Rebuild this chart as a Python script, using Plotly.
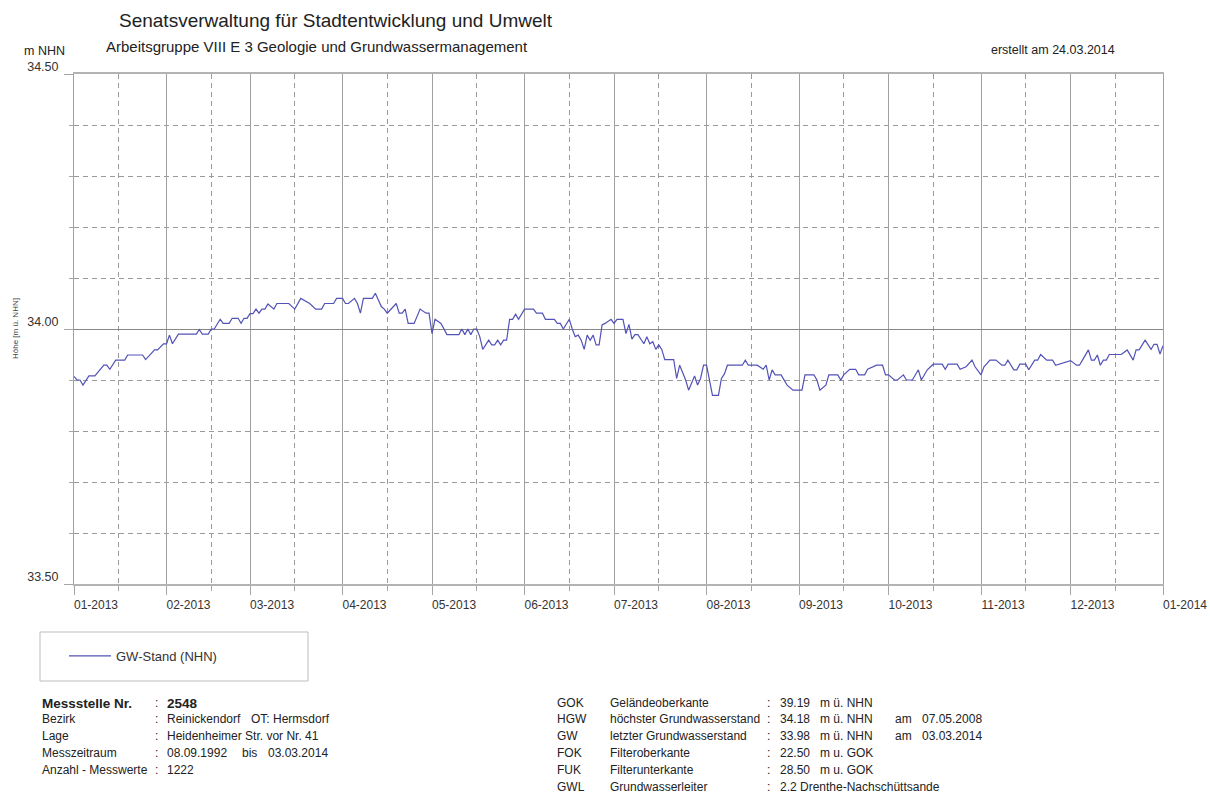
import plotly.graph_objects as go

# ---------------- data ----------------
dates = [
    "2013-01-01", "2013-01-02", "2013-01-03", "2013-01-04", "2013-01-06", "2013-01-08", "2013-01-11",
    "2013-01-12", "2013-01-13", "2013-01-15", "2013-01-18", "2013-01-19", "2013-01-24", "2013-01-25",
    "2013-01-28", "2013-01-29", "2013-01-31",
    "2013-02-01", "2013-02-02", "2013-02-03", "2013-02-05", "2013-02-11", "2013-02-12", "2013-02-13",
    "2013-02-15", "2013-02-16", "2013-02-17", "2013-02-19", "2013-02-20", "2013-02-22", "2013-02-23",
    "2013-02-25", "2013-02-26", "2013-02-27", "2013-02-28",
    "2013-03-01", "2013-03-02", "2013-03-03", "2013-03-04", "2013-03-05", "2013-03-06", "2013-03-07",
    "2013-03-09", "2013-03-10", "2013-03-14", "2013-03-16", "2013-03-18", "2013-03-20", "2013-03-21",
    "2013-03-23", "2013-03-25", "2013-03-26", "2013-03-29", "2013-03-30", "2013-03-31",
    "2013-04-01", "2013-04-02", "2013-04-03", "2013-04-05", "2013-04-06", "2013-04-07", "2013-04-08",
    "2013-04-11", "2013-04-12", "2013-04-14", "2013-04-15", "2013-04-16", "2013-04-19", "2013-04-20",
    "2013-04-21", "2013-04-22", "2013-04-23", "2013-04-25", "2013-04-27", "2013-04-29", "2013-04-30",
    "2013-05-01", "2013-05-02", "2013-05-04", "2013-05-06", "2013-05-10", "2013-05-11", "2013-05-12",
    "2013-05-13", "2013-05-14", "2013-05-15", "2013-05-16", "2013-05-17", "2013-05-18", "2013-05-20",
    "2013-05-21", "2013-05-22", "2013-05-23", "2013-05-24", "2013-05-25", "2013-05-26", "2013-05-27",
    "2013-05-28", "2013-05-29", "2013-05-30",
    "2013-06-01", "2013-06-04", "2013-06-05", "2013-06-07", "2013-06-08", "2013-06-11", "2013-06-12",
    "2013-06-13", "2013-06-14", "2013-06-16", "2013-06-17", "2013-06-18", "2013-06-19", "2013-06-20",
    "2013-06-21", "2013-06-22", "2013-06-23", "2013-06-24", "2013-06-25", "2013-06-26", "2013-06-27",
    "2013-06-28", "2013-06-30",
    "2013-07-01", "2013-07-02", "2013-07-04", "2013-07-05", "2013-07-06", "2013-07-07", "2013-07-08",
    "2013-07-09", "2013-07-11", "2013-07-12", "2013-07-13", "2013-07-14", "2013-07-15", "2013-07-16",
    "2013-07-17", "2013-07-18", "2013-07-21", "2013-07-22", "2013-07-23", "2013-07-25", "2013-07-26",
    "2013-07-28", "2013-07-29", "2013-07-30", "2013-07-31",
    "2013-08-01", "2013-08-02", "2013-08-03", "2013-08-05", "2013-08-06", "2013-08-07", "2013-08-08",
    "2013-08-13", "2013-08-14", "2013-08-15", "2013-08-18", "2013-08-20", "2013-08-21", "2013-08-22",
    "2013-08-23", "2013-08-24", "2013-08-26", "2013-08-28", "2013-08-30",
    "2013-09-02", "2013-09-03", "2013-09-06", "2013-09-07", "2013-09-08", "2013-09-10", "2013-09-11",
    "2013-09-14", "2013-09-15", "2013-09-16", "2013-09-18", "2013-09-20", "2013-09-21", "2013-09-23",
    "2013-09-24", "2013-09-27", "2013-09-28", "2013-09-29", "2013-09-30",
    "2013-10-01", "2013-10-03", "2013-10-04", "2013-10-06", "2013-10-07", "2013-10-09", "2013-10-11",
    "2013-10-12", "2013-10-14", "2013-10-16", "2013-10-19", "2013-10-20", "2013-10-21", "2013-10-24",
    "2013-10-25", "2013-10-27", "2013-10-29", "2013-10-30",
    "2013-11-01", "2013-11-02", "2013-11-04", "2013-11-06", "2013-11-08", "2013-11-09", "2013-11-10",
    "2013-11-12", "2013-11-13", "2013-11-14", "2013-11-16", "2013-11-17", "2013-11-19", "2013-11-20",
    "2013-11-21", "2013-11-23", "2013-11-25", "2013-11-26",
    "2013-12-01", "2013-12-03", "2013-12-04", "2013-12-05", "2013-12-07", "2013-12-08", "2013-12-09",
    "2013-12-10", "2013-12-11", "2013-12-12", "2013-12-13", "2013-12-14", "2013-12-18", "2013-12-20",
    "2013-12-22", "2013-12-23", "2013-12-24", "2013-12-26", "2013-12-28", "2013-12-29", "2013-12-30",
    "2013-12-31", "2014-01-01",
]

levels = [
    33.907, 33.900, 33.900, 33.890, 33.908, 33.908, 33.929,
    33.929, 33.921, 33.939, 33.939, 33.949, 33.949, 33.940,
    33.959, 33.959, 33.971,
    33.971, 33.988, 33.971, 33.990, 33.990, 33.999, 33.990,
    33.990, 34.000, 34.000, 34.019, 34.011, 34.011, 34.021,
    34.021, 34.011, 34.021, 34.021,
    34.030, 34.030, 34.039, 34.031, 34.039, 34.039, 34.049,
    34.039, 34.050, 34.050, 34.039, 34.060, 34.054, 34.050,
    34.039, 34.039, 34.050, 34.050, 34.060, 34.060,
    34.060, 34.050, 34.050, 34.060, 34.050, 34.031, 34.060,
    34.060, 34.070, 34.044, 34.039, 34.031, 34.050, 34.031,
    34.031, 34.039, 34.011, 34.011, 34.039, 34.031, 34.031,
    33.991, 34.019, 34.011, 33.989, 33.989, 34.000, 33.989,
    34.000, 33.989, 34.000, 34.000, 33.985, 33.960, 33.978,
    33.969, 33.969, 33.978, 33.969, 33.978, 33.978, 34.019,
    34.019, 34.029, 34.019,
    34.039, 34.039, 34.031, 34.031, 34.019, 34.019, 34.011,
    34.011, 34.000, 34.019, 34.000, 33.985, 33.988, 33.978,
    33.960, 33.988, 33.978, 33.988, 33.969, 33.969, 34.008,
    34.011, 34.019,
    34.011, 34.019, 34.019, 33.991, 34.009, 33.980, 33.989,
    33.989, 33.971, 33.985, 33.971, 33.975, 33.960, 33.969,
    33.960, 33.940, 33.940, 33.903, 33.929, 33.900, 33.880,
    33.908, 33.890, 33.903, 33.929,
    33.929, 33.900, 33.870, 33.870, 33.903, 33.912, 33.929,
    33.929, 33.939, 33.929, 33.929, 33.921, 33.929, 33.900,
    33.920, 33.910, 33.910, 33.890, 33.880,
    33.880, 33.910, 33.910, 33.900, 33.880, 33.890, 33.910,
    33.910, 33.900, 33.910, 33.921, 33.921, 33.910, 33.910,
    33.921, 33.929, 33.929, 33.929, 33.910,
    33.910, 33.900, 33.900, 33.910, 33.900, 33.900, 33.920,
    33.900, 33.920, 33.931, 33.931, 33.921, 33.931, 33.931,
    33.921, 33.926, 33.939, 33.926,
    33.910, 33.926, 33.939, 33.939, 33.929, 33.929, 33.939,
    33.920, 33.920, 33.931, 33.931, 33.920, 33.939, 33.939,
    33.950, 33.939, 33.939, 33.929,
    33.938, 33.929, 33.929, 33.939, 33.959, 33.939, 33.939,
    33.949, 33.929, 33.939, 33.939, 33.950, 33.950, 33.959,
    33.939, 33.959, 33.959, 33.978, 33.960, 33.970, 33.970,
    33.951, 33.967,
]

series_name = "GW-Stand (NHN)"
y_tick_values = [33.5, 34.0, 34.5]
y_tick_labels = ["33.50", "34.00", "34.50"]

# ---------------- figure ----------------
FONT = "Liberation Sans, Arial, sans-serif"
W, H = 1210, 803
L, R, T, B = 74, 47, 74, 219
PW, PH = W - L - R, H - T - B


def px(x):
    return (x - L) / PW


def py(y):
    return (H - B - y) / PH


fig = go.Figure()
fig.add_trace(go.Scatter(
    x=dates, y=levels, mode="lines", name=series_name,
    line=dict(color="#5252b8", width=1.2),
))

GRID = "#a6a6a6"
DASH = "5px,4px"

fig.update_layout(
    width=W, height=H,
    margin=dict(l=L, r=R, t=T, b=B),
    paper_bgcolor="white", plot_bgcolor="white",
    font=dict(family=FONT, color="#333"),
    showlegend=True,
    legend=dict(
        x=px(64), y=py(656), xanchor="left", yanchor="middle",
        bgcolor="rgba(0,0,0,0)", borderwidth=0, itemwidth=42,
        font=dict(family=FONT, size=13, color="#333"),
    ),
    title=dict(
        text="Senatsverwaltung für Stadtentwicklung und Umwelt",
        x=px(119), xref="paper", xanchor="left",
        y=1 - 20 / H, yref="container", yanchor="middle",
        font=dict(family=FONT, size=19, color="#222"),
    ),
)

fig.update_xaxes(
    type="date",
    range=["2013-01-01", "2014-01-01"],
    tickmode="linear", tick0="2013-01-01", dtick="M1",
    tickformat="%m-%Y",
    ticks="outside", ticklen=9, tickcolor=GRID, tickwidth=1,
    ticklabelshift=22, ticklabelstandoff=0,
    tickfont=dict(family=FONT, size=12, color="#333"),
    showgrid=True, gridcolor="#a0a0a0", gridwidth=1,
    showline=True, linecolor="#b3b3b3", linewidth=2, mirror=True,
    zeroline=False, automargin=False,
    minor=dict(
        tick0="2013-01-16", dtick="M1",
        ticks="outside", ticklen=5, tickcolor=GRID,
        showgrid=True, gridcolor="#9a9a9a", griddash=DASH, gridwidth=1,
    ),
)

fig.update_yaxes(
    range=[33.5, 34.5],
    tickmode="array", tickvals=y_tick_values, ticktext=y_tick_labels,
    ticks="outside", ticklen=9, tickcolor=GRID,
    ticklabelshift=-7, ticklabelstandoff=3,
    tickfont=dict(family=FONT, size=12.5, color="#333"),
    showgrid=True, gridcolor="#888888", gridwidth=1,
    showline=True, linecolor="#a0a0a0", linewidth=1, mirror=True,
    zeroline=False, automargin=False,
    minor=dict(
        tick0=33.5, dtick=0.1,
        ticks="outside", ticklen=4, tickcolor=GRID,
        showgrid=True, gridcolor="#9a9a9a", griddash=DASH, gridwidth=1,
    ),
)

# legend frame
fig.add_shape(type="rect", xref="paper", yref="paper",
              x0=px(40), x1=px(308), y0=py(632), y1=py(681),
              line=dict(color="#bdbdbd", width=1), fillcolor="rgba(0,0,0,0)")


def text(t, x, y, size=12, anchor="left", color="#222", angle=0):
    fig.add_annotation(
        text=t, xref="paper", yref="paper", x=px(x), y=py(y),
        xanchor=anchor, yanchor="middle", showarrow=False, textangle=angle,
        font=dict(family=FONT, size=size, color=color),
    )


# header texts
text("Arbeitsgruppe VIII E 3 Geologie und Grundwassermanagement", 104, 47, size=15)
text("erstellt am 24.03.2014", 1117, 50, size=12.5, anchor="right")
text("m NHN", 22, 51, size=12.5)
text("Höhe [m ü. NHN]", 15, 329, size=8, anchor="center", color="#444", angle=-90)

# station info - left block
text("<b>Messstelle Nr.</b>", 40, 703, size=13.5)
text(":", 153, 703)
text("<b>2548</b>", 165, 703, size=13.5)
left_rows = [
    ("Bezirk", [("Reinickendorf", 165), ("OT: Hermsdorf", 249)], 719),
    ("Lage", [("Heidenheimer Str. vor Nr. 41", 165)], 736),
    ("Messzeitraum", [("08.09.1992", 165), ("bis", 240), ("03.03.2014", 266)], 753),
    ("Anzahl - Messwerte", [("1222", 165)], 770),
]
for label, parts, y in left_rows:
    text(label, 40, y)
    text(":", 153, y)
    for t, x in parts:
        text(t, x, y)

# station info - right block
right_rows = [
    ("GOK", "Geländeoberkante", [("39.19", 778), ("m ü. NHN", 818)], 703),
    ("HGW", "höchster Grundwasserstand", [("34.18", 778), ("m ü. NHN", 818), ("am", 893), ("07.05.2008", 920)], 719),
    ("GW", "letzter Grundwasserstand", [("33.98", 778), ("m ü. NHN", 818), ("am", 893), ("03.03.2014", 920)], 736),
    ("FOK", "Filteroberkante", [("22.50", 778), ("m u. GOK", 818)], 753),
    ("FUK", "Filterunterkante", [("28.50", 778), ("m u. GOK", 818)], 770),
    ("GWL", "Grundwasserleiter", [("2.2", 778), ("Drenthe-Nachschüttsande", 798)], 787),
]
for abbr, label, parts, y in right_rows:
    text(abbr, 555, y)
    text(label, 608, y)
    text(":", 765, y)
    for t, x in parts:
        text(t, x, y)

fig.write_html(
    "out.html",
    config={"displayModeBar": False},
    post_script="document.body.style.margin='0';",
)
